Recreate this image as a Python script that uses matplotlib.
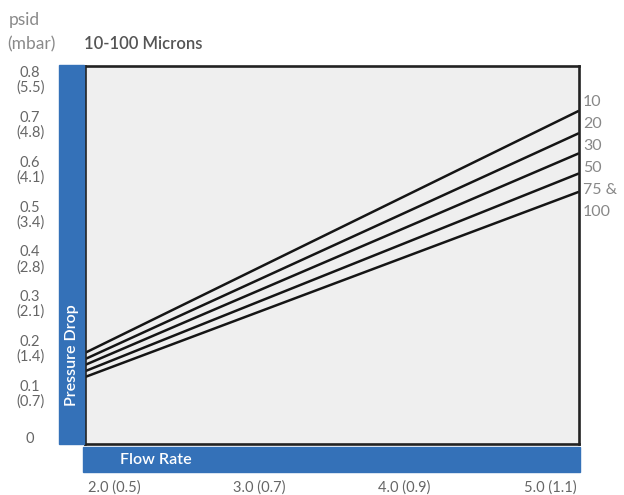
import matplotlib
matplotlib.use("Agg")
import matplotlib.pyplot as plt
from matplotlib.patches import Rectangle

plt.rcParams['font.family'] = ['Lato', 'DejaVu Sans']

# ---- data ----
flow = [1.8, 5.2]                      # gpm at the plot edges
series_labels = ["10", "20", "30", "50", "75 &\n100"]
pressure_10 = [0.188, 0.729]
pressure_20 = [0.174, 0.679]
pressure_30 = [0.161, 0.634]
pressure_50 = [0.147, 0.589]
pressure_75_100 = [0.134, 0.548]
series_values = [pressure_10, pressure_20, pressure_30, pressure_50, pressure_75_100]

y_ticks = [0, 0.1, 0.2, 0.3, 0.4, 0.5, 0.6, 0.7, 0.8]
y_tick_labels = ["0", "0.1\n(0.7)", "0.2\n(1.4)", "0.3\n(2.1)", "0.4\n(2.8)",
                 "0.5\n(3.4)", "0.6\n(4.1)", "0.7\n(4.8)", "0.8\n(5.5)"]
x_ticks = [2.0, 3.0, 4.0, 5.0]
x_tick_labels = ["2.0 (0.5)", "3.0 (0.7)", "4.0 (0.9)", "5.0 (1.1)"]

W, H = 624, 495
fig = plt.figure(figsize=(W / 100, H / 100), dpi=100)

def fx(px):
    return px / W

def fy(py):
    return 1 - py / H

blue = "#3471b8"
gray = "#666666"

ax = fig.add_axes([fx(85), fy(444), fx(579) - fx(85), fy(66) - fy(444)])
ax.set_facecolor("#efefef")
for s in ax.spines.values():
    s.set_color("#222222")
    s.set_linewidth(1.9)

for vals in series_values:
    ax.plot(flow, vals, color="#151515", lw=1.8, solid_capstyle="butt", clip_on=True)

ax.set_xlim(1.8, 5.2)
ax.set_ylim(-0.0156, 0.829)

ax.set_yticks(y_ticks)
ax.set_yticklabels(y_tick_labels, ha="center", color=gray, fontsize=10.5, linespacing=1.05)
ax.tick_params(axis="y", length=0, pad=39.5)
ax.set_xticks(x_ticks)
ax.set_xticklabels(x_tick_labels, color=gray, fontsize=10.5)
ax.tick_params(axis="x", length=0, pad=26.5)

# blue bars
fig.patches.append(Rectangle((fx(59), fy(444)), fx(84) - fx(59), fy(65) - fy(444),
                             transform=fig.transFigure, color=blue, zorder=0))
fig.patches.append(Rectangle((fx(83), fy(472)), fx(580) - fx(83), fy(447) - fy(472),
                             transform=fig.transFigure, color=blue, zorder=0))

fig.text(fx(72), fy(355), "Pressure Drop", rotation=90, color="white",
         fontsize=11.5, fontweight="semibold", ha="center", va="center")
fig.text(fx(120), fy(460), "Flow Rate", color="white", fontsize=11.5,
         fontweight="semibold", ha="left", va="center")

fig.text(fx(9), fy(20), "psid", color="#8a8a8a", fontsize=12.5, ha="left", va="center")
fig.text(fx(7), fy(44), "(mbar)", color="#8a8a8a", fontsize=12.5, ha="left", va="center")
fig.text(fx(84), fy(44), "10-100 Microns", color="#555555", fontsize=12,
         fontweight="semibold", ha="left", va="center")

# series labels at right
ypos = 102
for lab in series_labels:
    for part in lab.split("\n"):
        fig.text(fx(583), fy(ypos), part, color="#888888", fontsize=11.5,
                 ha="left", va="center")
        ypos += 22

fig.savefig("out.png", dpi=100)
